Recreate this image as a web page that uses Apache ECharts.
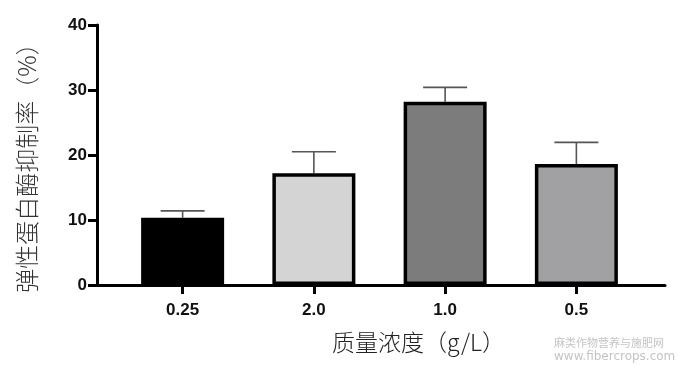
<!DOCTYPE html>
<html><head><meta charset="utf-8">
<script src="https://cdn.jsdelivr.net/npm/echarts@6/dist/echarts.min.js"></script>
<style>html,body{margin:0;padding:0;background:#fff}#c{width:678px;height:367px}</style>
</head><body><div id="c"></div>
<script>
const categories = ['0.25', '2.0', '1.0', '0.5'];
const values = [10.35, 17.2, 28.2, 18.6];
const upperErr = [11.4, 20.5, 30.4, 21.95];
const barColors = ['#000000', '#d4d4d4', '#7c7c7c', '#a1a1a4'];
const yTicks = { min: 0, max: 40, interval: 10 };
const yName = '弹性蛋白酶抑制率（%）';
const xName = '质量浓度（g/L）';

const chart = echarts.init(document.getElementById('c'));
const labelFont = { fontFamily: 'Liberation Sans, Arial, sans-serif', fontWeight: 'bold', fontSize: 17, color: '#111' };
chart.setOption({
  animation: false,
  backgroundColor: '#ffffff',
  grid: [
    { left: 97, right: 13, top: 25, bottom: 82 },
    { left: 117, right: 36, top: 25, bottom: 82 }
  ],
  xAxis: [
    { gridIndex: 0, type: 'value', min: 0, max: 1, axisLine: { show: true, lineStyle: { color: '#000', width: 3 } },
      axisTick: { show: false }, axisLabel: { show: false }, splitLine: { show: false } },
    { gridIndex: 1, type: 'category', data: categories, axisLine: { show: false },
      axisTick: { show: true, alignWithLabel: true, length: 9, lineStyle: { color: '#000', width: 3 } },
      axisLabel: Object.assign({ margin: 17 }, labelFont), splitLine: { show: false } }
  ],
  yAxis: [
    { gridIndex: 0, type: 'value', min: yTicks.min, max: yTicks.max, interval: yTicks.interval,
      axisLine: { show: true, lineStyle: { color: '#000', width: 3 } },
      axisTick: { show: true, length: 9, lineStyle: { color: '#000', width: 3 } },
      axisLabel: Object.assign({ margin: 10 }, labelFont), splitLine: { show: false },
      name: yName, nameLocation: 'middle', nameRotate: 90, nameGap: 58,
      nameTextStyle: { fontFamily: 'Noto Sans CJK SC', fontSize: 24, color: '#333', fontWeight: 300, padding: [0, 14, 0, 0] } },
    { gridIndex: 1, type: 'value', min: yTicks.min, max: yTicks.max, interval: yTicks.interval, show: false }
  ],
  series: [
    { type: 'bar', xAxisIndex: 1, yAxisIndex: 1, barWidth: 83, z: 3,
      data: values.map((v, i) => ({ value: v, itemStyle: { color: barColors[i], borderColor: '#000', borderWidth: 3.5 } })) },
    { type: 'custom', xAxisIndex: 1, yAxisIndex: 1, z: 2,
      data: values.map((v, i) => [i, v, upperErr[i]]),
      renderItem: function (params, api) {
        const base = api.coord([api.value(0), api.value(1)]);
        const top = api.coord([api.value(0), api.value(2)]);
        const hw = 22;
        const st = { stroke: '#555', lineWidth: 1.6 };
        return { type: 'group', children: [
          { type: 'line', shape: { x1: base[0], y1: base[1], x2: top[0], y2: top[1] }, style: st },
          { type: 'line', shape: { x1: top[0] - hw, y1: top[1], x2: top[0] + hw, y2: top[1] }, style: st }
        ] };
      } }
  ],
  graphic: [
    { type: 'text', left: 332, top: 331, style: { text: xName, font: '300 23px "Noto Sans CJK SC"', fill: '#222' } },
    { type: 'text', left: 554, top: 337, style: { text: '麻类作物营养与施肥网', font: '11px "Noto Sans CJK SC"', fill: '#c4c4c4' } },
    { type: 'text', left: 554, top: 351, style: { text: 'www.fibercrops.com', font: '12px "DejaVu Sans"', fill: '#c4c4c4' } }
  ]
});
</script></body></html>
